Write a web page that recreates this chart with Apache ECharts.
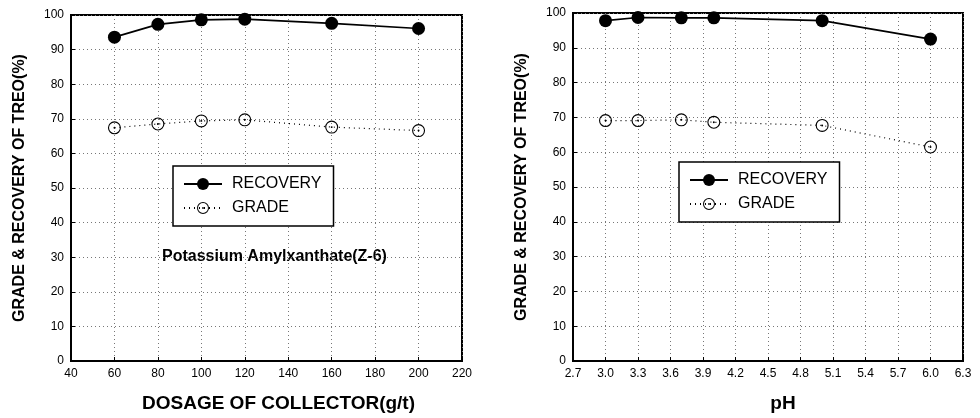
<!DOCTYPE html>
<html><head><meta charset="utf-8">
<script src="https://cdn.jsdelivr.net/npm/echarts@6/dist/echarts.min.js"></script>
<style>html,body{margin:0;padding:0;background:#fff}#c{width:980px;height:418px}</style>
</head><body><div id="c"></div>
<script>
// Left chart: dosage of collector
const dosage = [60, 80, 100, 120, 160, 200];
const recoveryDosage = [93.6, 97.3, 98.6, 98.8, 97.6, 96.1];
const gradeDosage = [67.4, 68.5, 69.4, 69.7, 67.6, 66.6];
// Right chart: pH
const pH = [3.0, 3.3, 3.7, 4.0, 5.0, 6.0];
const recoveryPH = [97.8, 98.7, 98.6, 98.6, 97.8, 92.5];
const gradePH = [69.1, 69.1, 69.3, 68.6, 67.7, 61.5];

const yName = 'GRADE & RECOVERY OF TREO(%)';
const xNameLeft = 'DOSAGE OF COLLECTOR(g/t)';
const xNameRight = 'pH';
const note = 'Potassium Amylxanthate(Z-6)';

const FONT = '"Liberation Sans", Arial, sans-serif';
const ringPath = 'path://M10,0 A10,10 0 1,1 10,20 A10,10 0 1,1 10,0 Z M10,1.7 A8.3,8.3 0 1,0 10,18.3 A8.3,8.3 0 1,0 10,1.7 Z M10,8.5 A1.5,1.5 0 1,1 10,11.5 A1.5,1.5 0 1,1 10,8.5 Z';

const chart = echarts.init(document.getElementById('c'), null, {renderer: 'canvas'});

function xAxisCfg(gi, min, max, interval, name, fmt, shift) {
  return {
    type: 'value', gridIndex: gi, min: min, max: max, interval: interval,
    name: name, nameLocation: 'middle', nameGap: 33,
    nameTextStyle: {fontFamily: FONT, fontWeight: 'bold', fontSize: 19, color: '#000', padding: [0, 0, 0, shift]},
    axisLine: {show: true, onZero: false, lineStyle: {color: '#000', width: 2}},
    axisTick: {show: true, inside: true, length: 4, lineStyle: {color: '#000'}},
    axisLabel: {fontFamily: FONT, fontSize: 12, color: '#000', margin: 7, formatter: fmt},
    splitLine: {show: true, lineStyle: {color: '#777', type: [1, 3], width: 1}}
  };
}
function yAxisCfg(gi) {
  return {
    type: 'value', gridIndex: gi, min: 0, max: 100, interval: 10,
    name: yName, nameLocation: 'middle', nameGap: 43, nameRotate: 90,
    nameTextStyle: {fontFamily: FONT, fontWeight: 'bold', fontSize: 16, color: '#000'},
    axisLine: {show: true, lineStyle: {color: '#000', width: 2}},
    axisTick: {show: true, inside: true, length: 4, lineStyle: {color: '#000'}},
    axisLabel: {fontFamily: FONT, fontSize: 12, color: '#000', margin: 7},
    splitLine: {show: true, lineStyle: {color: '#777', type: [1, 3], width: 1}}
  };
}
function pairs(xs, ys) { return xs.map((x, i) => [x, ys[i]]); }

function recSeries(gi, data) {
  return {
    name: 'RECOVERY', type: 'line', xAxisIndex: gi, yAxisIndex: gi,
    data: data, symbol: 'circle', symbolSize: 13,
    itemStyle: {color: '#000'}, lineStyle: {color: '#000', width: 1.7}, z: 3
  };
}
function gradeSeries(gi, data) {
  return {
    name: 'GRADE', type: 'line', xAxisIndex: gi, yAxisIndex: gi,
    data: data, symbol: ringPath, symbolSize: 13,
    itemStyle: {color: '#000'}, lineStyle: {color: '#000', width: 1.2, type: [1, 4]}, z: 3
  };
}
function legendCfg(left, top) {
  return {
    orient: 'vertical', left: left, top: top,
    data: ['RECOVERY', 'GRADE'],
    backgroundColor: '#fff', borderColor: '#000', borderWidth: 1.5,
    padding: [10, 12, 10, 10], itemGap: 8, itemWidth: 38, itemHeight: 15,
    textStyle: {fontFamily: FONT, fontSize: 16, color: '#000', padding: [0, 0, 0, 5]},
    selectedMode: false
  };
}

chart.setOption({
  animation: false,
  backgroundColor: '#fff',
  grid: [
    {left: 71, top: 15, width: 391, height: 347, show: true, borderColor: '#000', borderWidth: 2, backgroundColor: 'transparent'},
    {left: 573, top: 13, width: 390, height: 348, show: true, borderColor: '#000', borderWidth: 2, backgroundColor: 'transparent'}
  ],
  xAxis: [
    xAxisCfg(0, 40, 220, 20, xNameLeft, v => String(Math.round(v)), 24),
    xAxisCfg(1, 2.7, 6.3, 0.3, xNameRight, v => (Math.round(v * 10) / 10).toFixed(1), 30)
  ],
  yAxis: [yAxisCfg(0), yAxisCfg(1)],
  legend: [legendCfg(173, 166), legendCfg(679, 162)],
  series: [
    recSeries(0, pairs(dosage, recoveryDosage)),
    gradeSeries(0, pairs(dosage, gradeDosage)),
    recSeries(1, pairs(pH, recoveryPH)),
    gradeSeries(1, pairs(pH, gradePH))
  ],
  graphic: [{
    type: 'text', left: 162, top: 249,
    style: {text: note, fontFamily: FONT, fontWeight: 'bold', fontSize: 16, fill: '#000'}
  }]
});
</script></body></html>
